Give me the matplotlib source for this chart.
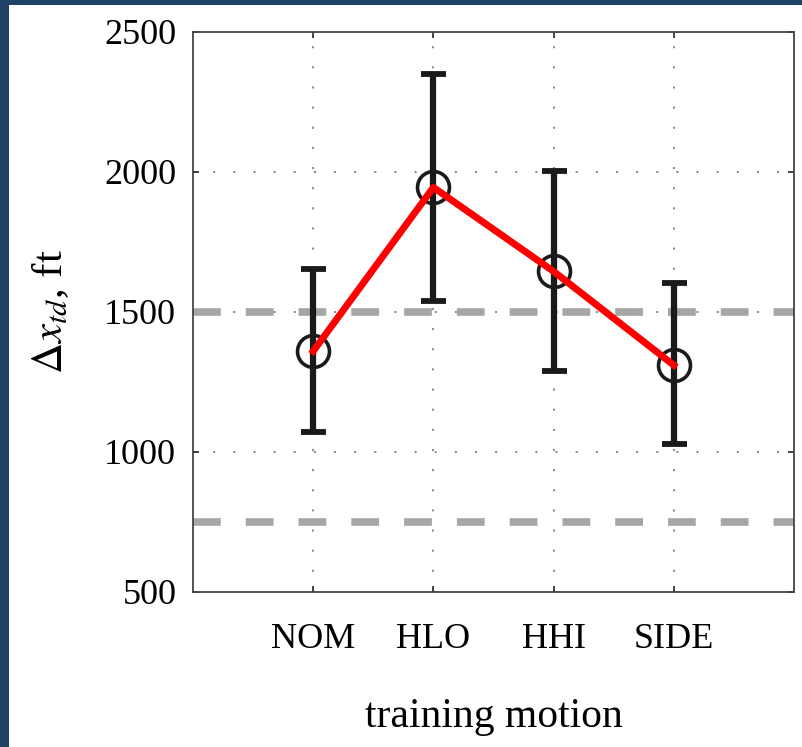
import numpy as np
import matplotlib
matplotlib.use("Agg")
import matplotlib.pyplot as plt
from matplotlib.patches import Rectangle

plt.rcParams['font.family'] = ['Liberation Serif', 'DejaVu Serif']
plt.rcParams['mathtext.fontset'] = 'stix'
plt.rcParams['lines.scale_dashes'] = False

motions = ['NOM', 'HLO', 'HHI', 'SIDE']
means = [1360, 1945, 1645, 1310]
upper = [1655, 2350, 2005, 1605]
lower = [1070, 1540, 1290, 1030]
ref_levels = [1500, 750]

x = np.arange(1, len(motions) + 1)
m = np.array(means)
err = [m - np.array(lower), np.array(upper) - m]

fig = plt.figure(figsize=(8.02, 7.47), dpi=100)
fig.patch.set_facecolor('#1f4266')
fig.patches.append(Rectangle((9 / 802, 0), 1, 1 - 5 / 747, transform=fig.transFigure,
                             facecolor='white', edgecolor='none', zorder=-10))

ax = fig.add_axes([193 / 802, 1 - 592 / 747, 601 / 802, 560 / 747])

for lev in ref_levels:
    ax.axhline(lev, color='#a6a6a6', lw=5.5, dashes=(20, 18), zorder=1)

ax.errorbar(x, means, yerr=err, fmt='none', ecolor='#1a1a1a', elinewidth=4.5,
            capsize=9, capthick=4.2, zorder=3)
ax.plot(x, means, 'o', ms=23, mfc='none', mec='#1a1a1a', mew=2.6, zorder=4)
ax.plot(x, means, '-', color='#ff0000', lw=5, zorder=5)

ax.set_xlim(0, 5)
ax.set_ylim(500, 2500)
ax.set_xticks(x)
ax.set_xticklabels(motions)
ax.set_yticks([500, 1000, 1500, 2000, 2500])
ax.grid(True, color='#8a8a8a', lw=1.4, dashes=(1.5, 13))
ax.set_axisbelow(True)
ax.tick_params(direction='in', length=4, width=1.2, color='#222222',
               top=True, right=True, labelsize=26)
ax.tick_params(axis='y', pad=12)
ax.tick_params(axis='x', pad=22)
for s in ax.spines.values():
    s.set_color('#444444')
    s.set_linewidth(1.3)

ax.set_xlabel('training motion', fontsize=30, labelpad=30)
ax.set_ylabel(r'$\Delta x_{td}$, ft', fontsize=31, labelpad=24)

fig.savefig('out.png', dpi=100, facecolor=fig.get_facecolor())
